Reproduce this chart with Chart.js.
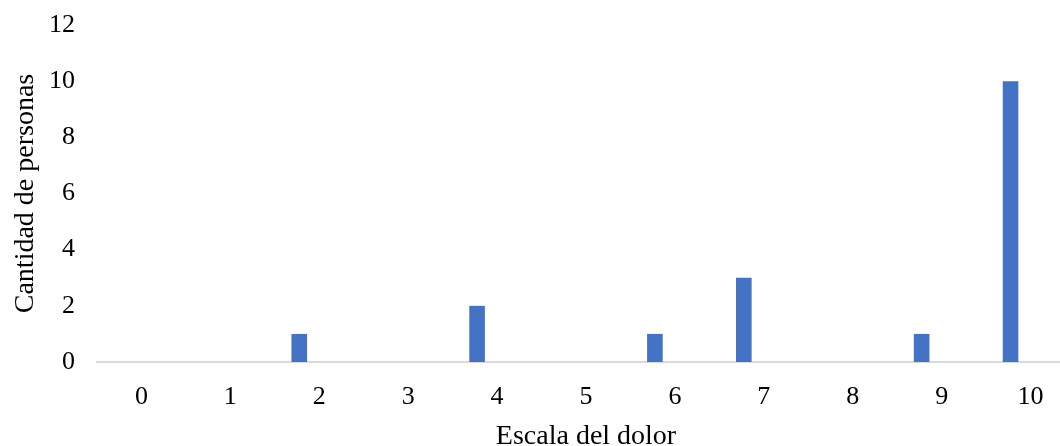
<!DOCTYPE html>
<html>
<head>
<meta charset="utf-8">
<script src="https://cdn.jsdelivr.net/npm/chart.js@4"></script>
<style>
  html, body { margin: 0; padding: 0; background: #fff; overflow: hidden; }
  #wrap { width: 1075px; height: 446px; }
</style>
</head>
<body>
<div id="wrap"><canvas id="grafico" width="1075" height="446"></canvas></div>
<script>
// ---------- Datos ----------
const escala = ["0", "1", "2", "3", "4", "5", "6", "7", "8", "9", "10"];
const personas = [0, 0, 1, 0, 2, 0, 1, 3, 0, 1, 10];
// serie vacía (Excel deja su hueco a la derecha de cada barra)
const serieVacia = [0, 0, 0, 0, 0, 0, 0, 0, 0, 0, 0];
const ticksY = [0, 2, 4, 6, 8, 10, 12];

const fuente = "'Liberation Serif', 'Times New Roman', serif";
const azul = "#4472C4";

const ctx = document.getElementById("grafico").getContext("2d");
new Chart(ctx, {
  type: "bar",
  data: {
    labels: escala,
    datasets: [
      { label: "Cantidad", data: personas, backgroundColor: azul, borderWidth: 0,
        categoryPercentage: 0.9, barPercentage: 0.39 },
      { label: "", data: serieVacia, backgroundColor: "rgba(0,0,0,0)", borderWidth: 0,
        categoryPercentage: 0.9, barPercentage: 0.39 }
    ]
  },
  options: {
    responsive: false,
    animation: false,
    layout: { padding: { top: 25, right: 0, left: 0, bottom: 0 } },
    plugins: { legend: { display: false }, tooltip: { enabled: false } },
    scales: {
      x: {
        grid: { display: false, drawTicks: false },
        border: { display: true, color: "#d9d9d9", width: 2 },
        ticks: { color: "#000", font: { family: fuente, size: 26 }, padding: 20 },
        title: { display: true, text: "Escala del dolor", color: "#000",
                 font: { family: fuente, size: 28 }, padding: { top: 4, bottom: -7 } },
        afterFit: s => { s.height = 84; }
      },
      y: {
        min: 0, max: 12,
        afterBuildTicks: s => { s.ticks = ticksY.map(v => ({ value: v })); },
        grid: { display: false, drawTicks: false },
        border: { display: false },
        ticks: { color: "#000", font: { family: fuente, size: 26 }, padding: 22 },
        title: { display: true, text: "Cantidad de personas", color: "#000",
                 font: { family: fuente, size: 28 }, padding: { top: 9, bottom: 0 } },
        afterFit: s => { s.width = 97; s.paddingTop = 10; s.paddingBottom = 0; }
      }
    }
  }
});
</script>
</body>
</html>
